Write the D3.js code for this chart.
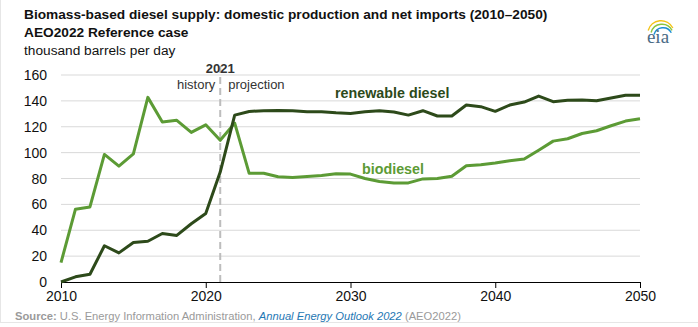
<!DOCTYPE html>
<html>
<head>
<meta charset="utf-8">
<script src="https://cdn.jsdelivr.net/npm/d3@7"></script>
<style>
  body { margin: 0; background: #fff; }
  svg { font-family: "Liberation Sans", Arial, sans-serif; }
</style>
</head>
<body>
<svg id="chart" width="698" height="327"></svg>
<script>
// years 2010-2050
var years = d3.range(2010, 2051);
var renewableDiesel = [0, 4, 6, 28, 22.5, 30.5, 31.5, 37.5, 36, 45, 53, 85,
  129, 131.8, 132.4, 132.6, 132.4, 131.6, 131.6, 130.8, 130.3, 131.6, 132.4, 131.4, 129, 132.4,
  128.3, 128.3, 136.8, 135.5, 131.9, 136.8, 139.1, 143.7, 139.4, 140.4, 140.6, 140.1, 142.2, 144.3, 144.3];
var biodiesel = [15, 56.3, 58, 98.6, 89.5, 99, 142.7, 123.6, 125, 115.6, 121.5, 109.5,
  122.8, 84, 84, 81.3, 80.8, 81.5, 82.3, 83.6, 83.4, 80, 77.7, 76.6, 76.6, 79.7,
  80, 81.8, 89.8, 90.6, 91.9, 93.7, 95, 101.9, 108.9, 110.7, 114.8, 116.9, 120.8, 124.4, 126.2];
var yTicks = [0, 20, 40, 60, 80, 100, 120, 140, 160];
var xTicks = [2010, 2020, 2030, 2040, 2050];

var darkGreen = "#2d4a1a";
var lightGreen = "#5c9b35";

var svg = d3.select("#chart");

var x = d3.scaleLinear().domain([2010, 2050]).range([61, 640]);
var y = d3.scaleLinear().domain([0, 160]).range([282, 75]);

// frame lines
svg.append("line").attr("x1", 0.5).attr("x2", 0.5).attr("y1", 0).attr("y2", 323)
  .attr("stroke", "#e6e6e6");
svg.append("line").attr("x1", 0).attr("x2", 698).attr("y1", 322.5).attr("y2", 322.5)
  .attr("stroke", "#e6e6e6");

// titles
svg.append("text").attr("x", 24).attr("y", 19)
  .style("font-size", "13.7px").style("font-weight", "bold").attr("fill", "#111")
  .text("Biomass-based diesel supply: domestic production and net imports (2010\u20132050)");
svg.append("text").attr("x", 24).attr("y", 37)
  .style("font-size", "13.7px").style("font-weight", "bold").attr("fill", "#111")
  .text("AEO2022 Reference case");
svg.append("text").attr("x", 24).attr("y", 55)
  .style("font-size", "13.7px").attr("fill", "#111")
  .text("thousand barrels per day");

// eia logo
var logo = svg.append("g").attr("transform", "translate(658,28)");
var arcs = [["#f3c316", 14], ["#8bc53f", 12], ["#1b8fd1", 10]];
arcs.forEach(function(a, i) {
  logo.append("path")
    .attr("d", d3.arc()({ innerRadius: a[1] - 1.4, outerRadius: a[1], startAngle: -1.3, endAngle: 1.1 }))
    .attr("transform", "translate(" + (3 + i) + "," + (6 + i * 1.5) + ")")
    .attr("fill", a[0]);
});
logo.append("text").attr("x", 0).attr("y", 15).attr("text-anchor", "middle")
  .style("font-family", "'Liberation Serif', serif").style("font-size", "19px")
  .attr("fill", "#4a6b85").text("eia");

// gridlines
svg.append("g").selectAll("line").data(yTicks.filter(function(d) { return d > 0; }))
  .enter().append("line")
  .attr("x1", 61).attr("x2", 640)
  .attr("y1", function(d) { return y(d); }).attr("y2", function(d) { return y(d); })
  .attr("stroke", "#d9d9d9").attr("stroke-width", 1);

// y labels
svg.append("g").selectAll("text").data(yTicks).enter().append("text")
  .attr("x", 47).attr("y", function(d) { return y(d) + 5; })
  .attr("text-anchor", "end").style("font-size", "14px").attr("fill", "#111")
  .text(function(d) { return d; });

// x axis
var xAxis = d3.axisBottom(x).tickValues(xTicks).tickFormat(d3.format("d")).tickSize(6).tickPadding(3);
var gx = svg.append("g").attr("transform", "translate(0,282)").call(xAxis);
gx.select(".domain").attr("stroke", "#000").attr("d", "M61,0.5H640");
gx.selectAll(".tick line").attr("stroke", "#000");
gx.selectAll(".tick text").style("font-size", "14px").attr("fill", "#111")
  .style("font-family", "'Liberation Sans', Arial, sans-serif");

// 2021 divider
svg.append("line").attr("x1", x(2021)).attr("x2", x(2021)).attr("y1", 66).attr("y2", 282)
  .attr("stroke", "#bdbdbd").attr("stroke-width", 2).attr("stroke-dasharray", "7,4");
svg.append("text").attr("x", x(2021)).attr("y", 73).attr("text-anchor", "middle")
  .style("font-size", "13px").style("font-weight", "bold").attr("fill", "#333").text("2021");
svg.append("text").attr("x", x(2021) - 5).attr("y", 89).attr("text-anchor", "end")
  .style("font-size", "13px").attr("fill", "#333").text("history");
svg.append("text").attr("x", x(2021) + 8).attr("y", 89).attr("text-anchor", "start")
  .style("font-size", "13px").attr("fill", "#333").text("projection");

// lines
var line = d3.line().x(function(d, i) { return x(years[i]); }).y(function(d) { return y(d); });
svg.append("path").datum(biodiesel).attr("d", line)
  .attr("fill", "none").attr("stroke", lightGreen).attr("stroke-width", 3).attr("stroke-linejoin", "round");
svg.append("path").datum(renewableDiesel).attr("d", line)
  .attr("fill", "none").attr("stroke", darkGreen).attr("stroke-width", 3).attr("stroke-linejoin", "round");

// series labels
svg.append("text").attr("x", 335).attr("y", 98)
  .style("font-size", "14.3px").style("font-weight", "bold").attr("fill", darkGreen)
  .text("renewable diesel");
svg.append("text").attr("x", 362).attr("y", 174)
  .style("font-size", "14.3px").style("font-weight", "bold").attr("fill", lightGreen)
  .text("biodiesel");

// source
var src = svg.append("text").attr("x", 15).attr("y", 320).style("font-size", "11.2px").attr("fill", "#9a9a9a");
src.append("tspan").style("font-weight", "bold").text("Source: ");
src.append("tspan").text("U.S. Energy Information Administration, ");
src.append("tspan").attr("fill", "#1f78b4").style("font-style", "italic").text("Annual Energy Outlook 2022");
src.append("tspan").text(" (AEO2022)");
</script>
</body>
</html>
